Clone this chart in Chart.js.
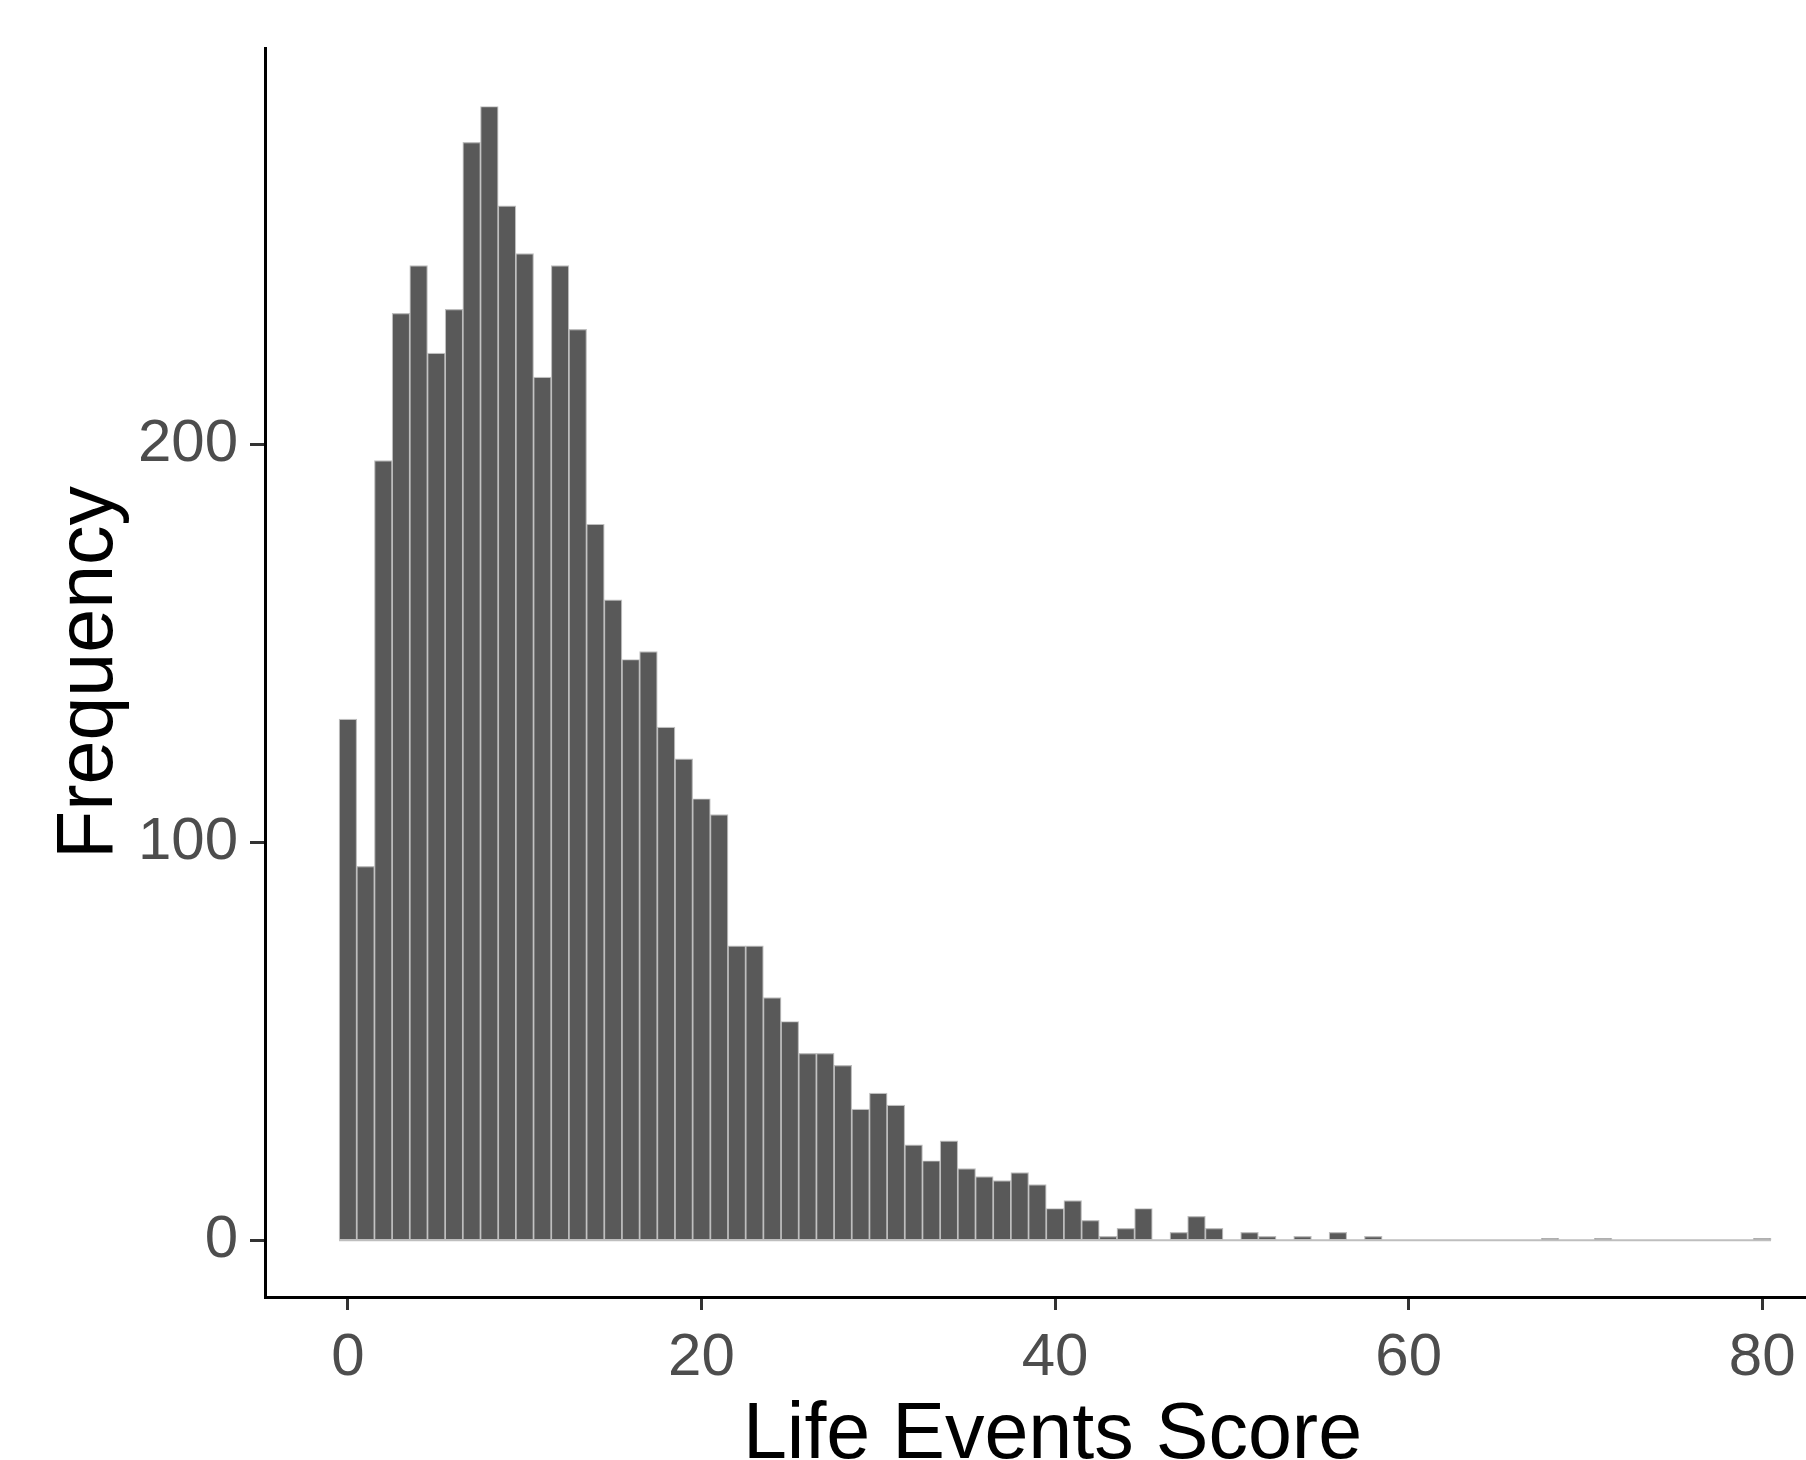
<!DOCTYPE html>
<html>
<head>
<meta charset="utf-8">
<script src="https://cdn.jsdelivr.net/npm/chart.js@4"></script>
<style>
html, body { margin: 0; padding: 0; background: #fff; overflow: hidden; }
#wrap { width: 1840px; height: 1460px; }
</style>
</head>
<body>
<div id="wrap"><canvas id="histChart" width="1840" height="1460"></canvas></div>
<script>
// histogram bins (score, bin width 1) and counts
const scores = [0, 1, 2, 3, 4, 5, 6, 7, 8, 9, 10, 11, 12, 13, 14, 15, 16, 17, 18, 19,
    20, 21, 22, 23, 24, 25, 26, 27, 28, 29, 30, 31, 32, 33, 34, 35, 36, 37, 38, 39,
    40, 41, 42, 43, 44, 45, 46, 47, 48, 49, 50, 51, 52, 53, 54, 55, 56, 57, 58, 59,
    60, 61, 62, 63, 64, 65, 66, 67, 68, 69, 70, 71, 72, 73, 74, 75, 76, 77, 78, 79, 80];
const counts = [131, 94, 196, 233, 245, 223, 234, 276, 285, 260, 248, 217, 245, 229, 180, 161, 146, 148, 129, 121,
    111, 107, 74, 74, 61, 55, 47, 47, 44, 33, 37, 34, 24, 20, 25, 18, 16, 15, 17, 14,
    8, 10, 5, 1, 3, 8, 0, 2, 6, 3, 0, 2, 1, 0, 1, 0, 2, 0, 1, 0,
    0, 0, 0, 0, 0, 0, 0, 0, 0.5, 0, 0, 0.5, 0, 0, 0, 0, 0, 0, 0, 0, 0.5];
const xTicks = [0, 20, 40, 60, 80];
const yTicks = [0, 100, 200];

const fontFamily = '"Liberation Sans", Arial, sans-serif';

const barData = scores.map((s, i) => ({ x: s, y: counts[i] }));
// outline of the empty bins along zero
const baseline = [
    { x: scores[0] - 0.5, y: 0 },
    { x: scores[scores.length - 1] + 0.5, y: 0 }
];

const ctx = document.getElementById('histChart').getContext('2d');
const histChart = new Chart(ctx, {
    type: 'bar',
    data: {
        datasets: [{
            type: 'line',
            data: baseline,
            borderColor: '#bebebe',
            borderWidth: 2,
            pointRadius: 0,
            order: 0
        }, {
            data: barData,
            backgroundColor: '#595959',
            borderColor: '#bebebe',
            borderWidth: 1.2,
            borderSkipped: false,
            barPercentage: 1,
            categoryPercentage: 1,
            order: 1
        }]
    },
    options: {
        responsive: false,
        animation: false,
        layout: { padding: { top: 44, right: 0, bottom: 0, left: 0 } },
        plugins: {
            legend: { display: false },
            tooltip: { enabled: false }
        },
        scales: {
            x: {
                type: 'linear',
                min: -4.69,
                max: 84.4,
                offset: false,
                afterBuildTicks: scale => { scale.ticks = xTicks.map(v => ({ value: v })); },
                afterFit: scale => { scale.height = 163; },
                grid: { display: true, offset: false, drawOnChartArea: false, tickLength: 13, tickWidth: 3, tickColor: '#333333' },
                border: { display: true, color: '#000000', width: 3 },
                ticks: {
                    color: '#4d4d4d',
                    font: { size: 60, family: fontFamily },
                    padding: 12,
                    maxRotation: 0,
                    autoSkip: false
                },
                title: {
                    display: true,
                    text: 'Life Events Score',
                    color: '#000000',
                    font: { size: 79, family: fontFamily, lineHeight: 1 },
                    padding: { top: 0, bottom: -16 }
                }
            },
            y: {
                min: -14.25,
                max: 299.7,
                afterBuildTicks: scale => { scale.ticks = yTicks.map(v => ({ value: v })); },
                afterFit: scale => { scale.width = 265; },
                grid: { display: true, drawOnChartArea: false, tickLength: 15, tickWidth: 3, tickColor: '#333333' },
                border: { display: true, color: '#000000', width: 3 },
                ticks: {
                    color: '#4d4d4d',
                    font: { size: 60, family: fontFamily },
                    padding: 12
                },
                title: {
                    display: true,
                    text: 'Frequency',
                    color: '#000000',
                    font: { size: 79, family: fontFamily, lineHeight: 1 },
                    padding: { top: 51, bottom: 0 }
                }
            }
        }
    }
});
</script>
</body>
</html>
